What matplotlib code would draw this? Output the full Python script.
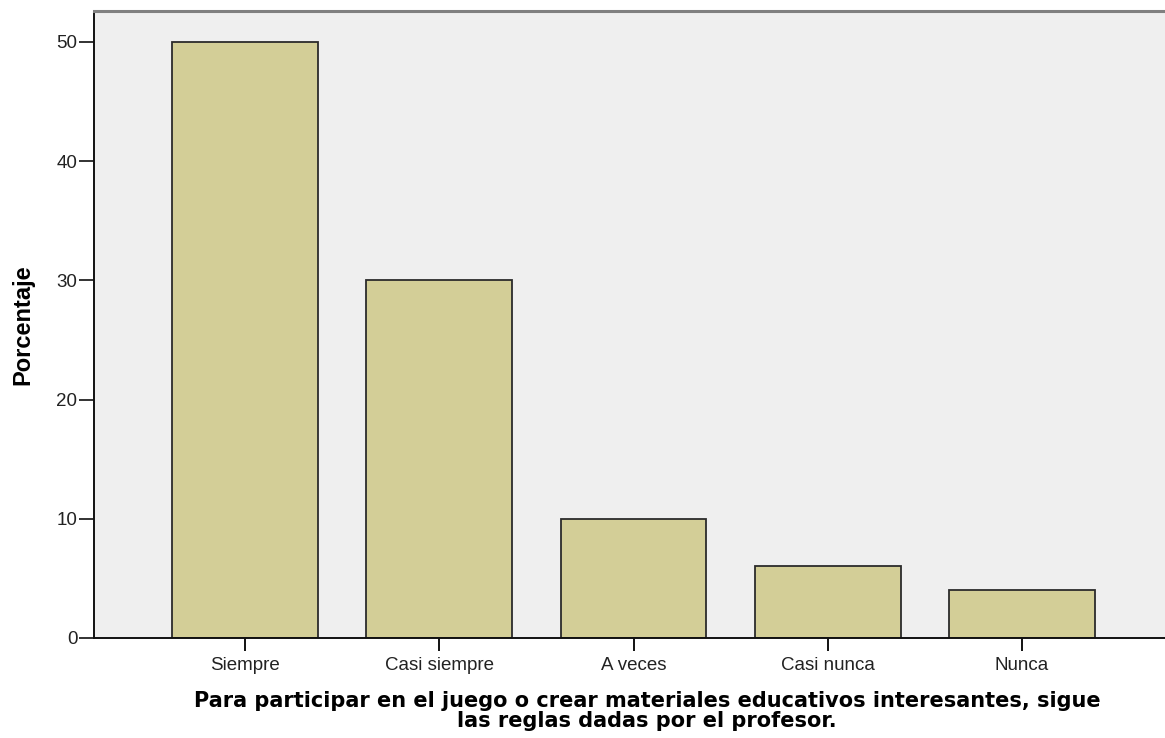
import matplotlib
matplotlib.use("Agg")
import matplotlib.pyplot as plt
import numpy as np

# --- data ---
categories = ["Siempre", "Casi siempre", "A veces", "Casi nunca", "Nunca"]
percentages = [50, 30, 10, 6, 4]
yticks = [0, 10, 20, 30, 40, 50]

xlabel_text = ("Para participar en el juego o crear materiales educativos interesantes, sigue\n"
               "las reglas dadas por el profesor.")

fig = plt.figure(figsize=(11.65, 7.38), dpi=100)
W, H = 1165, 738
# axes box in pixel coords: left 94, right 1173 (just past the edge), top 11, bottom 638
ax = fig.add_axes([94 / W, (H - 638) / H, (1173 - 94) / W, (638 - 11) / H])
ax.set_facecolor("#EFEFEF")

x = np.arange(len(categories))
ax.bar(x, percentages, width=0.75, color="#D3CE97", edgecolor="#2b2b2b", linewidth=1.3)

ax.set_xlim(-0.777, len(categories) - 1 + 0.777)
ax.set_ylim(0, 52.6)
ax.set_yticks(yticks)
ax.set_xticks(x)
ax.set_xticklabels(categories, fontsize=13.5, family="Liberation Sans", color="#222222")
for lab in ax.get_yticklabels():
    lab.set_family("Liberation Sans")
ax.tick_params(axis="y", labelsize=13.5, colors="#222222", length=11, width=1.3,
               direction="out", pad=1)
ax.tick_params(axis="x", length=9, width=1.3, direction="out", pad=5)

for s in ["left", "bottom"]:
    ax.spines[s].set_color("#111111")
    ax.spines[s].set_linewidth(1.4)
ax.spines["top"].set_color("#808080")
ax.spines["top"].set_linewidth(2.2)
ax.spines["right"].set_visible(False)

ax.set_ylabel("Porcentaje", fontsize=17, fontweight="bold", family="Liberation Sans",
              labelpad=16)

fig.text(647 / W, 1 - 711 / H, xlabel_text, ha="center", va="center",
         fontsize=15, fontweight="bold", linespacing=1.0)

fig.savefig("out.png", dpi=100)
